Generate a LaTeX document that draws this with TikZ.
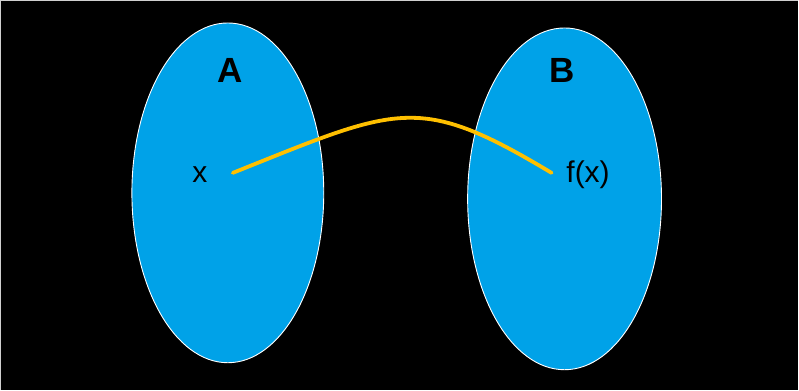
\documentclass[tikz,border=0pt]{standalone}
\usepackage{fontspec}
\setmainfont{Liberation Sans}
\usepackage{xcolor}
\usepackage{tikz}
\usetikzlibrary{shapes.geometric}
\definecolor{setblue}{HTML}{00A2E8}
\definecolor{mapyellow}{HTML}{FFC000}
\definecolor{edgegray}{HTML}{D0D0D0}

\begin{document}
\begin{tikzpicture}[
    x=1pt, y=-1pt,
    set/.style={ellipse, draw=white, line width=0.9pt, fill=setblue, inner sep=0pt},
    setname/.style={font=\bfseries\fontsize{35}{35}\selectfont, inner sep=0pt},
    elem/.style={font=\fontsize{30}{30}\selectfont, inner sep=0pt},
    mapping/.style={draw=mapyellow, line width=3.8pt, line cap=round}
]
% background
\fill[black] (0,0) rectangle (799,390);
\draw[edgegray, line width=1.2pt] (0.6,390) -- (0.6,0.6) -- (799,0.6);
\useasboundingbox (0,0) rectangle (799,390);
% the two sets
\node[set, minimum width=192pt, minimum height=340pt] (setA) at (228,193) {};
\node[set, minimum width=194pt, minimum height=342pt] (setB) at (565,199) {};
\node[setname] (A) at (230,70.5) {A};
\node[setname] (B) at (562.5,70.5) {B};
% elements
\node[elem] (x) at (200,175) {x};
\node[elem] (fx) at (588.5,175) {f(x)};
\coordinate (xpt) at (233,173);
\coordinate (fxpt) at (552,173);
% the map
\draw[mapping] (xpt) .. controls (399.5,106.4) and (418.5,92.9) .. (fxpt);
\end{tikzpicture}
\end{document}
